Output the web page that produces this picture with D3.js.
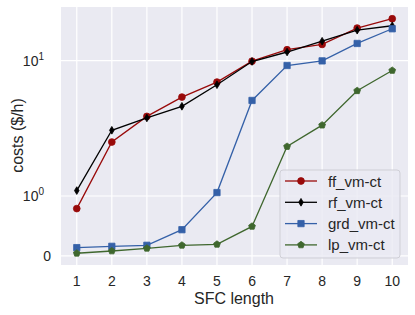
<!DOCTYPE html>
<html>
<head>
<meta charset="utf-8">
<script src="https://cdn.jsdelivr.net/npm/d3@7"></script>
<style>
  body { margin: 0; background: #fff; }
  text { font-family: "Liberation Sans", Arial, sans-serif; fill: #262626; }
</style>
</head>
<body>
<svg id="chart" width="415" height="315"></svg>
<script>
// data
var sfcLength = [1, 2, 3, 4, 5, 6, 7, 8, 9, 10]
var ffCost  = [0.79, 1.90, 3.04, 4.59, 6.32, 9.86, 12.6, 14.1, 20.0, 24.4]
var rfCost  = [1.09, 2.26, 2.94, 3.77, 5.97, 9.80, 12.0, 15.1, 19.1, 21.0]
var grdCost = [0.139, 0.161, 0.178, 0.438, 1.057, 4.27, 9.0, 9.93, 14.4, 19.7]
var lpCost  = [0.045, 0.083, 0.128, 0.178, 0.194, 0.493, 1.825, 2.52, 5.25, 8.09]
var seriesNames = ['ff_vm-ct', 'rf_vm-ct', 'grd_vm-ct', 'lp_vm-ct']
var yTicks = [0, 1, 10]

var series = [
	{name: seriesNames[0], values: ffCost,  color: '#990a0a', marker: 'circle'},
	{name: seriesNames[1], values: rfCost,  color: '#000000', marker: 'thinDiamond'},
	{name: seriesNames[2], values: grdCost, color: '#3561a8', marker: 'square'},
	{name: seriesNames[3], values: lpCost,  color: '#3f672e', marker: 'pentagon'}
]

// matplotlib symlog, linthresh 2, linscale 1, base 10
var linthresh = 2,
	linscaleAdj = 1 / (1 - 1 / 10)
var symlog = function(v) {
	var a = Math.abs(v)
	if (a <= linthresh) return v * linscaleAdj
	return Math.sign(v) * linthresh * (linscaleAdj + Math.log10(a / linthresh))
}

var geom = {left: 61, right: 408, top: 7, bottom: 265}

var svg = d3.select('#chart')

var x = d3.scaleLinear()
	.domain([0.55, 10.45])
	.range([geom.left, geom.right])

var allT = []
series.forEach(function(s) { s.values.forEach(function(v) { allT.push(symlog(v)) }) })
var tExt = d3.extent(allT),
	pad = (tExt[1] - tExt[0]) * 0.05
var y = d3.scaleLinear()
	.domain([tExt[0] - pad, tExt[1] + pad])
	.range([geom.bottom, geom.top])

// background + grid
svg.append('rect')
	.attr('x', geom.left).attr('y', geom.top)
	.attr('width', geom.right - geom.left).attr('height', geom.bottom - geom.top)
	.attr('fill', '#eaeaf2')

svg.append('g').selectAll('line')
	.data(sfcLength)
	.enter().append('line')
	.attr('x1', function(d) { return x(d) }).attr('x2', function(d) { return x(d) })
	.attr('y1', geom.top).attr('y2', geom.bottom)
	.attr('stroke', '#fff').attr('stroke-width', 1.2)

svg.append('g').selectAll('line')
	.data(yTicks)
	.enter().append('line')
	.attr('x1', geom.left).attr('x2', geom.right)
	.attr('y1', function(d) { return y(symlog(d)) }).attr('y2', function(d) { return y(symlog(d)) })
	.attr('stroke', '#fff').attr('stroke-width', 1.2)

// tick labels
svg.append('g').selectAll('text')
	.data(sfcLength)
	.enter().append('text')
	.attr('x', function(d) { return x(d) })
	.attr('y', 286)
	.attr('text-anchor', 'middle')
	.attr('font-size', 14)
	.text(function(d) { return d })

var yLab = svg.append('g').selectAll('text')
	.data(yTicks)
	.enter().append('text')
	.attr('x', function(d) { return d == 0 ? 51 : 44 })
	.attr('y', function(d) { return y(symlog(d)) + 5 })
	.attr('text-anchor', 'end')
	.attr('font-size', 14)
yLab.each(function(d) {
	var t = d3.select(this)
	if (d == 0) { t.text('0'); return }
	t.text('10')
	t.append('tspan')
		.attr('font-size', 10)
		.attr('dy', -6)
		.text(Math.round(Math.log10(d)))
})

svg.append('text')
	.attr('x', 234).attr('y', 304)
	.attr('text-anchor', 'middle')
	.attr('font-size', 16)
	.text('SFC length')

svg.append('text')
	.attr('transform', 'translate(23,135.5) rotate(-90)')
	.attr('text-anchor', 'middle')
	.attr('font-size', 16)
	.text('costs ($/h)')

// markers
var symbols = {
	circle: {draw: function(ctx, size) {
		var r = Math.sqrt(size / Math.PI)
		ctx.moveTo(r, 0); ctx.arc(0, 0, r, 0, 2 * Math.PI)
	}},
	square: {draw: function(ctx, size) {
		var h = Math.sqrt(size) / 2
		ctx.rect(-h, -h, 2 * h, 2 * h)
	}},
	thinDiamond: {draw: function(ctx, size) {
		var h = Math.sqrt(size) / 2 * 1.25, w = h * 0.6
		ctx.moveTo(0, -h); ctx.lineTo(w, 0); ctx.lineTo(0, h); ctx.lineTo(-w, 0); ctx.closePath()
	}},
	pentagon: {draw: function(ctx, size) {
		var r = Math.sqrt(size / 2.38)
		for (var i = 0; i < 5; i++) {
			var a = -Math.PI / 2 + i * 2 * Math.PI / 5
			if (i == 0) ctx.moveTo(r * Math.cos(a), r * Math.sin(a))
			else ctx.lineTo(r * Math.cos(a), r * Math.sin(a))
		}
		ctx.closePath()
	}}
}
var sizes = {circle: 36, square: 40, thinDiamond: 38, pentagon: 30}

var line = d3.line()
	.x(function(d, i) { return x(sfcLength[i]) })
	.y(function(d) { return y(symlog(d)) })

var gs = svg.append('g').selectAll('.series')
	.data(series)
	.enter().append('g')
	.attr('class', 'series')

gs.append('path')
	.attr('d', function(s) { return line(s.values) })
	.attr('fill', 'none')
	.attr('stroke', function(s) { return s.color })
	.attr('stroke-width', 1.3)

gs.each(function(s) {
	d3.select(this).selectAll('.pt')
		.data(s.values)
		.enter().append('path')
		.attr('class', 'pt')
		.attr('transform', function(d, i) { return 'translate(' + x(sfcLength[i]) + ',' + y(symlog(d)) + ')' })
		.attr('d', d3.symbol().type(symbols[s.marker]).size(sizes[s.marker]))
		.attr('fill', s.color)
		.attr('stroke', s.color)
		.attr('stroke-width', 0.8)
})

// legend
var leg = svg.append('g').attr('transform', 'translate(280,170)')
leg.append('rect')
	.attr('width', 120).attr('height', 88)
	.attr('rx', 3)
	.attr('fill', '#eaeaf2').attr('fill-opacity', 0.8)
	.attr('stroke', '#cfcfd6').attr('stroke-width', 1)

var items = leg.selectAll('.item')
	.data(series)
	.enter().append('g')
	.attr('class', 'item')
	.attr('transform', function(s, i) { return 'translate(0,' + (11 + i * 21.3) + ')' })
items.append('line')
	.attr('x1', 5).attr('x2', 37)
	.attr('stroke', function(s) { return s.color })
	.attr('stroke-width', 1.3)
items.append('path')
	.attr('transform', 'translate(21,0)')
	.attr('d', function(s) { return d3.symbol().type(symbols[s.marker]).size(sizes[s.marker])() })
	.attr('fill', function(s) { return s.color })
	.attr('stroke', function(s) { return s.color })
	.attr('stroke-width', 0.8)
items.append('text')
	.attr('x', 48).attr('y', 5.5)
	.attr('font-size', 15)
	.text(function(s) { return s.name })
</script>
</body>
</html>
